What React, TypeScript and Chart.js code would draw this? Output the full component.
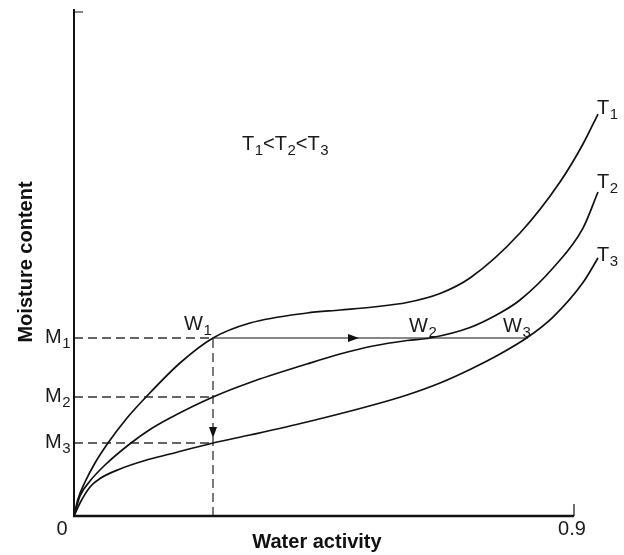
import React, { useEffect, useRef } from "react";
import { Chart, registerables } from "chart.js";

Chart.register(...registerables);

// Water activity (x) and moisture content (y, arbitrary units 0-100) for each isotherm
const T1_X = [0, 0.0072, 0.0198, 0.0378, 0.0612, 0.0954, 0.1296, 0.1908, 0.2502, 0.3168, 0.4194, 0.4788, 0.5382, 0.5994, 0.6588, 0.7128, 0.8028, 0.8748, 0.9162, 0.9432];
const T1_Y = [0, 3.37, 6.75, 10.52, 14.48, 19.44, 23.61, 30.36, 35.32, 38.29, 40.28, 40.87, 41.47, 42.36, 44.15, 47.22, 56.15, 66.27, 73.81, 79.76];

const T2_X = [0, 0.0108, 0.0288, 0.0558, 0.1026, 0.1368, 0.1728, 0.2502, 0.3168, 0.4194, 0.4788, 0.5382, 0.5994, 0.6408, 0.7128, 0.7668, 0.8028, 0.8622, 0.9162, 0.9432];
const T2_Y = [0, 3.97, 6.94, 10.12, 14.48, 17.16, 19.44, 23.61, 26.49, 30.16, 32.14, 33.73, 34.82, 35.32, 37.4, 40.28, 42.86, 49.21, 57.14, 64.29];

const T3_X = [0, 0.0108, 0.0288, 0.0468, 0.0828, 0.1278, 0.1728, 0.2502, 0.3168, 0.4194, 0.5382, 0.5994, 0.6588, 0.7128, 0.7668, 0.8172, 0.8622, 0.9162, 0.9432];
const T3_Y = [0, 2.58, 5.75, 7.44, 9.33, 11.01, 12.3, 14.48, 16.07, 18.65, 22.02, 24.01, 26.39, 29.07, 32.14, 35.52, 39.48, 46.33, 51.19];

const SERIES_NAMES = ["T", "T", "T"];
const SERIES_SUBS = ["1", "2", "3"];

const M_LEVELS = [35.32, 23.61, 14.48];
const M_SUBS = ["1", "2", "3"];
const W_X = [0.2502, 0.6408, 0.8172];
const W_SUBS = ["1", "2", "3"];

const X_TICK = 0.9;
const X_TICK_LABELS = ["0", "0.9"];
const Y_TOP_TICK = 100;
const ARROW_RIGHT_X = 0.513;
const ARROW_DOWN_Y = 15.5;

const X_TITLE = "Water activity";
const Y_TITLE = "Moisture content";

const pts = (xs: number[], ys: number[]) => xs.map((x, i) => ({ x, y: ys[i] }));

const FONT = "'Liberation Sans', Arial, sans-serif";

function drawSub(ctx: CanvasRenderingContext2D, main: string, sub: string, x: number, y: number) {
  ctx.font = `20px ${FONT}`;
  ctx.textAlign = "left";
  ctx.textBaseline = "alphabetic";
  ctx.fillText(main, x, y);
  const w = ctx.measureText(main).width;
  ctx.font = `15px ${FONT}`;
  ctx.fillText(sub, x + w + 0.5, y + 5);
  return w + 0.5 + ctx.measureText(sub).width;
}

export default function App() {
  const ref = useRef<HTMLCanvasElement>(null);

  useEffect(() => {
    if (!ref.current) return;
    const curveStyle = {
      borderColor: "#111",
      borderWidth: 1.7,
      pointRadius: 0,
      fill: false,
      cubicInterpolationMode: "monotone" as const,
    };
    const dashStyle = {
      borderColor: "#333",
      borderWidth: 1.3,
      borderDash: [9, 5],
      pointRadius: 0,
      fill: false,
      tension: 0,
    };
    const M1 = M_LEVELS[0];
    const W1 = W_X[0];

    const overlay = {
      id: "overlay",
      afterDatasetsDraw(chart: any) {
        const ctx: CanvasRenderingContext2D = chart.ctx;
        const xs = chart.scales.x;
        const ys = chart.scales.y;
        const px = (v: number) => xs.getPixelForValue(v);
        const py = (v: number) => ys.getPixelForValue(v);
        const ox = px(0);
        const oy = py(0);
        ctx.save();
        ctx.strokeStyle = "#111";
        ctx.fillStyle = "#111";
        ctx.setLineDash([]);

        // y axis
        ctx.lineWidth = 2;
        ctx.beginPath();
        ctx.moveTo(ox, oy);
        ctx.lineTo(ox, chart.chartArea.top);
        ctx.stroke();
        // x axis
        ctx.lineWidth = 2.5;
        ctx.beginPath();
        ctx.moveTo(ox - 1, oy);
        ctx.lineTo(px(X_TICK), oy);
        ctx.stroke();
        // ticks
        ctx.lineWidth = 1.2;
        ctx.beginPath();
        ctx.moveTo(ox, py(Y_TOP_TICK));
        ctx.lineTo(ox + 9, py(Y_TOP_TICK));
        ctx.moveTo(px(X_TICK), oy);
        ctx.lineTo(px(X_TICK), oy - 12);
        ctx.stroke();

        // right arrow
        const ax = px(ARROW_RIGHT_X);
        const ay = py(M1);
        ctx.beginPath();
        ctx.moveTo(ax, ay);
        ctx.lineTo(ax - 11, ay - 4);
        ctx.lineTo(ax - 11, ay + 4);
        ctx.closePath();
        ctx.fill();
        // down arrow
        const dx = px(W1);
        const dy = py(ARROW_DOWN_Y);
        ctx.beginPath();
        ctx.moveTo(dx, dy);
        ctx.lineTo(dx - 4, dy - 11);
        ctx.lineTo(dx + 4, dy - 11);
        ctx.closePath();
        ctx.fill();

        ctx.fillStyle = "#1a1a1a";
        // tick labels
        ctx.font = `20px ${FONT}`;
        ctx.textAlign = "center";
        ctx.textBaseline = "alphabetic";
        ctx.fillText(X_TICK_LABELS[0], ox - 12, oy + 19);
        ctx.fillText(X_TICK_LABELS[1], px(X_TICK) - 2, oy + 19);

        // M labels
        M_LEVELS.forEach((m, i) => drawSub(ctx, "M", M_SUBS[i], ox - 29, py(m) + 5));
        // W labels
        const wOff = [-29, -21, -25];
        const wBase = [-8, -6, -6];
        W_X.forEach((w, i) => drawSub(ctx, "W", W_SUBS[i], px(w) + wOff[i], py(M1) + wBase[i]));

        // T labels at curve ends
        const ends = [
          [T1_X[T1_X.length - 1], T1_Y[T1_Y.length - 1], 0],
          [T2_X[T2_X.length - 1], T2_Y[T2_Y.length - 1], -4],
          [T3_X[T3_X.length - 1], T3_Y[T3_Y.length - 1], 3],
        ];
        ends.forEach((e, i) => drawSub(ctx, SERIES_NAMES[i], SERIES_SUBS[i], px(e[0]) - 1, py(e[1]) + e[2]));

        // T1<T2<T3
        let tx = 242;
        const tb = 150;
        tx += drawSub(ctx, "T", "1", tx, tb);
        tx += drawSub(ctx, "<T", "2", tx, tb);
        drawSub(ctx, "<T", "3", tx, tb);

        // axis titles
        ctx.font = `bold 20px ${FONT}`;
        ctx.textAlign = "center";
        ctx.fillStyle = "#111";
        ctx.fillText(X_TITLE, 317, 548);
        ctx.save();
        ctx.translate(32, 262);
        ctx.rotate(-Math.PI / 2);
        ctx.fillText(Y_TITLE, 0, 0);
        ctx.restore();

        ctx.restore();
      },
    };

    const chart = new Chart(ref.current, {
      type: "line",
      data: {
        datasets: [
          { ...curveStyle, data: pts(T1_X, T1_Y) },
          { ...curveStyle, data: pts(T2_X, T2_Y) },
          { ...curveStyle, data: pts(T3_X, T3_Y) },
          ...M_LEVELS.map((m) => ({ ...dashStyle, data: [{ x: 0, y: m }, { x: W1, y: m }] })),
          { ...dashStyle, data: [{ x: W1, y: 0 }, { x: W1, y: M1 }] },
          {
            borderColor: "#111",
            borderWidth: 1.2,
            pointRadius: 0,
            fill: false,
            tension: 0,
            data: [{ x: W1, y: M1 }, { x: W_X[2], y: M1 }],
          },
        ],
      },
      options: {
        responsive: false,
        animation: false,
        parsing: false as any,
        layout: { padding: { left: 74, right: 20, top: 9, bottom: 39 } },
        plugins: { legend: { display: false }, tooltip: { enabled: false } },
        scales: {
          x: { type: "linear", min: 0, max: 0.954, display: false },
          y: { type: "linear", min: 0, max: 100.6, display: false },
        },
      },
      plugins: [overlay],
    });
    return () => chart.destroy();
  }, []);

  return (
    <div style={{ position: "absolute", left: 0, top: 0, width: 624, height: 555, background: "#fff" }}>
      <canvas ref={ref} width={624} height={555} />
    </div>
  );
}
